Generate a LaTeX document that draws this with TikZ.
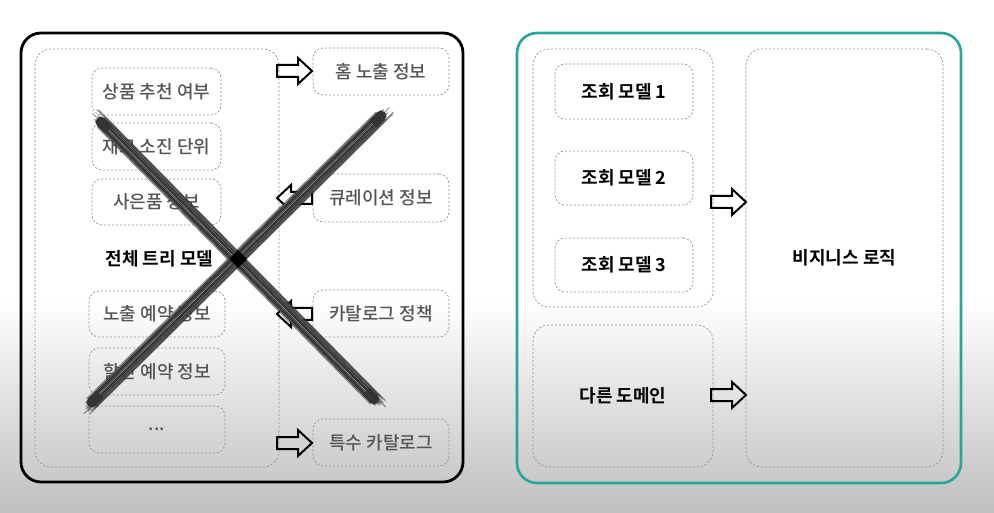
\documentclass[tikz,border=0pt]{standalone}
\usepackage{fontspec}
\setmainfont{Noto Sans CJK KR}
\newfontfamily\krbold{Noto Sans CJK KR Bold}
\newfontfamily\krmed{Noto Sans CJK KR Medium}
\definecolor{teal1}{RGB}{40,165,155}
\definecolor{txtgray}{RGB}{85,85,85}
\definecolor{dashgray}{RGB}{150,150,150}
\tikzset{
  dbox/.style={draw=dashgray, line width=0.7pt, dash pattern=on 2.2pt off 1.8pt, rounded corners=10pt, inner sep=0pt},
  gbox/.style={dbox, text=txtgray, font=\krmed\fontsize{18}{20}\selectfont},
  kbox/.style={dbox, text=black, font=\krbold\fontsize{18}{20}\selectfont},
  bigbox/.style={dbox, rounded corners=16pt},
  arrstyle/.style={draw=black, line width=2pt, line join=miter},
  rarr/.pic={\draw[arrstyle] (0,-6) -- (21,-6) -- (21,-13) -- (35,0) -- (21,13) -- (21,6) -- (0,6) -- cycle;},
  larr/.pic={\draw[arrstyle] (0,-6) -- (-21,-6) -- (-21,-13) -- (-35,0) -- (-21,13) -- (-21,6) -- (0,6) -- cycle;},
}
\begin{document}
\begin{tikzpicture}[x=1pt,y=-1pt]
\useasboundingbox (0,0) rectangle (994,513);
\fill[white] (0,0) rectangle (994,513);
\shade[top color=white, bottom color=black!25] (0,300) rectangle (994,513);

% ---------- left panel ----------
\node[draw=black, line width=2.8pt, rounded corners=20pt, minimum width=442pt, minimum height=449pt, inner sep=0pt] (leftouter) at (242,257.5) {};
\node[bigbox, minimum width=244pt, minimum height=418pt] (tree) at (157,258) {};

\node[gbox, minimum width=129pt, minimum height=47pt] (a1) at (156.5,91.5) {상품 추천 여부};
\node[gbox, minimum width=129pt, minimum height=47pt] (a2) at (156.5,146.5) {재고 소진 단위};
\node[gbox, minimum width=129pt, minimum height=46pt] (a3) at (156.5,202) {사은품 정보};
\node[font=\krbold\fontsize{18}{20}\selectfont, text=black] (ttl) at (159.5,259) {전체 트리 모델};
\node[gbox, minimum width=136pt, minimum height=46pt] (a4) at (157,314) {노출 예약 정보};
\node[gbox, minimum width=136pt, minimum height=47pt] (a5) at (157,371.5) {할인 예약 정보};
\node[gbox, minimum width=136pt, minimum height=47pt] (a6) at (157,429.5) {...};

\node[gbox, minimum width=136pt, minimum height=47pt] (b1) at (381,71.5) {홈 노출 정보};
\node[gbox, minimum width=136pt, minimum height=48pt] (b2) at (381,198) {큐레이션 정보};
\node[gbox, minimum width=136pt, minimum height=47pt] (b3) at (381,313.5) {카탈로그 정책};
\node[gbox, minimum width=136pt, minimum height=47pt] (b4) at (381,442.5) {특수 카탈로그};

\pic at (277,71) {rarr};
\pic at (312,198) {larr};
\pic at (312,314) {larr};
\pic at (277,443) {rarr};

% big X (brush strokes)
\coordinate (xa1) at (97,118);
\coordinate (xa2) at (378,403);
\coordinate (xb1) at (385,112);
\coordinate (xb2) at (88,406);
\pgfmathsetseed{7}
\begin{scope}[line cap=round]
  \draw[black!78, line width=11pt] ([shift={(4,4)}]xa1) -- ([shift={(-4,-4)}]xa2);
  \draw[black!78, line width=11pt] ([shift={(-4,4)}]xb1) -- ([shift={(4,-4)}]xb2);
  \foreach \i in {1,...,14}{
    \pgfmathsetmacro{\o}{rand*6}
    \pgfmathsetmacro{\s}{rand*6}
    \pgfmathsetmacro{\t}{rand*6}
    \draw[black!80, line width=1pt, opacity=0.55] ([shift={(\o+\s,-\o+\s)}]xa1) -- ([shift={(\o+\t,-\o+\t)}]xa2);
    \draw[black!80, line width=1pt, opacity=0.55] ([shift={(\o-\s,\o+\s)}]xb1) -- ([shift={(\o-\t,\o+\t)}]xb2);
  }
  \foreach \i in {1,...,6}{
    \pgfmathsetmacro{\o}{rand*4}
    \draw[white, line width=0.4pt, opacity=0.3] ([shift={(\o+12,-\o+12)}]xa1) -- ([shift={(\o-12,-\o-12)}]xa2);
    \draw[white, line width=0.4pt, opacity=0.3] ([shift={(\o-12,\o+12)}]xb1) -- ([shift={(\o+12,\o-12)}]xb2);
  }
  \fill[black] (238,250) -- (247,259) -- (238,268) -- (229,259) -- cycle;
\end{scope}

% ---------- right panel ----------
\node[draw=teal1, line width=2.6pt, rounded corners=20pt, minimum width=444pt, minimum height=450pt, inner sep=0pt] (rightouter) at (739,258) {};
\node[bigbox, minimum width=180pt, minimum height=258pt] (views) at (623,178) {};
\node[bigbox, minimum width=180pt, minimum height=142pt, font=\krbold\fontsize{18}{20}\selectfont] (other) at (623,396) {다른 도메인};
\node[bigbox, minimum width=197pt, minimum height=418pt, font=\krbold\fontsize{18}{20}\selectfont] (biz) at (844.5,258) {비지니스 로직};

\node[kbox, minimum width=138pt, minimum height=55pt] (c1) at (624,91.5) {조회 모델 1};
\node[kbox, minimum width=138pt, minimum height=54pt] (c2) at (624,178) {조회 모델 2};
\node[kbox, minimum width=138pt, minimum height=54pt] (c3) at (624,265) {조회 모델 3};

\pic at (711,202) {rarr};
\pic at (711,395) {rarr};
\end{tikzpicture}
\end{document}
